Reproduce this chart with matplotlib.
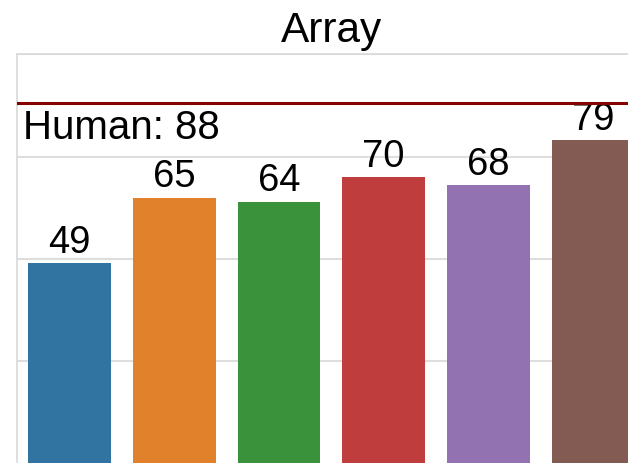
import matplotlib

matplotlib.use("Agg")
import matplotlib.pyplot as plt

# values
models = ["m1", "m2", "m3", "m4", "m5", "m6"]
scores = [49, 65, 64, 70, 68, 79]
human_score = 88
title = "Array"

colors = ["#3274A1", "#E1812C", "#3A923A", "#C03D3E", "#9372B2", "#845B53"]

plt.rcParams["font.family"] = ["Liberation Sans", "DejaVu Sans"]

fig = plt.figure(figsize=(6.28, 4.63), dpi=100)
# axes runs off the right edge, as in the cropped original
ax = fig.add_axes([0.0276, -0.0013, 1.0, 0.884])

x = list(range(len(models)))
ax.bar(x, scores, width=0.79, color=colors, zorder=2)
for xi, v in zip(x, scores):
    ax.annotate(
        str(v),
        (xi, v),
        xytext=(0, 7.5),
        textcoords="offset points",
        ha="center",
        va="baseline",
        fontsize=27.5,
    )

ax.axhline(human_score, color="#850000", linewidth=2.2, zorder=3)
ax.text(-0.45, 79.2, f"Human: {human_score}", fontsize=29, ha="left", va="baseline")

ax.set_xlim(-0.5, 5.5)
ax.set_ylim(0, 100)
ax.set_yticks([0, 25, 50, 75, 100])
ax.set_xticks([])
ax.tick_params(left=False, labelleft=False)
ax.grid(axis="y", color="0.87", linewidth=1.5, zorder=0)
for s in ax.spines.values():
    s.set_color("0.85")
    s.set_linewidth(1.2)

ax.set_title(title, fontsize=30.5, pad=9)

fig.savefig("out.png", dpi=100)
